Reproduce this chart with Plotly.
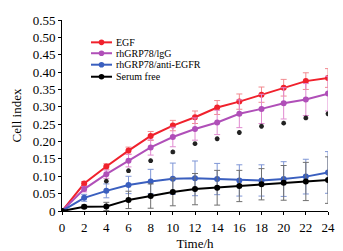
import plotly.graph_objects as go

time_h = [0, 2, 4, 6, 8, 10, 12, 14, 16, 18, 20, 22, 24]

egf = [0, 0.079, 0.128, 0.174, 0.216, 0.246, 0.270, 0.298, 0.315, 0.335, 0.355, 0.374, 0.383]
egf_err = [0, 0.006, 0.008, 0.01, 0.013, 0.015, 0.018, 0.02, 0.022, 0.022, 0.024, 0.024, 0.027]

igg = [0, 0.063, 0.106, 0.145, 0.183, 0.213, 0.236, 0.255, 0.280, 0.294, 0.310, 0.321, 0.338]
igg_err = [0, 0.008, 0.012, 0.018, 0.022, 0.028, 0.032, 0.035, 0.04, 0.042, 0.045, 0.046, 0.05]

anti = [0, 0.038, 0.058, 0.075, 0.085, 0.093, 0.094, 0.092, 0.088, 0.088, 0.092, 0.099, 0.111]
anti_err = [0, 0.01, 0.02, 0.025, 0.035, 0.045, 0.05, 0.045, 0.045, 0.045, 0.05, 0.05, 0.06]

serum = [0, 0.012, 0.013, 0.032, 0.043, 0.055, 0.063, 0.067, 0.072, 0.077, 0.081, 0.085, 0.089]
serum_err = [0, 0.005, 0.012, 0.025, 0.035, 0.04, 0.045, 0.05, 0.045, 0.045, 0.05, 0.055, 0.067]

star_time = [4, 6, 8, 10, 12, 14, 16, 18, 20, 22, 24]
star_y = [0.086, 0.116, 0.145, 0.170, 0.194, 0.208, 0.226, 0.244, 0.253, 0.268, 0.280]

y_ticks = [0, 0.05, 0.10, 0.15, 0.20, 0.25, 0.30, 0.35, 0.40, 0.45, 0.50, 0.55]
y_tick_text = ["0", "0.05", "0.10", "0.15", "0.20", "0.25", "0.30", "0.35", "0.40", "0.45", "0.50", "0.55"]
x_ticks = [0, 2, 4, 6, 8, 10, 12, 14, 16, 18, 20, 22, 24]

series = [
    ("EGF", egf, egf_err, "#f0212c", "#f28a90"),
    ("rhGRP78/lgG", igg, igg_err, "#b04fb8", "#e08ad0"),
    ("rhGRP78/anti-EGFR", anti, anti_err, "#3a5fbf", "#7f96d6"),
    ("Serum free", serum, serum_err, "#000000", "#707070"),
]

FONT = "Liberation Serif, Times New Roman, serif"

fig = go.Figure()
for name, vals, errs, col, ecol in series:
    fig.add_trace(go.Scatter(
        x=time_h, y=vals, name=name, mode="lines+markers", showlegend=False,
        line=dict(color=col, width=2),
        marker=dict(color=col, size=6, symbol="circle"),
        error_y=dict(type="data", array=errs, visible=True, color=ecol, thickness=1, width=3),
    ))

fig.add_trace(go.Scatter(
    x=star_time, y=star_y, mode="markers", showlegend=False,
    marker=dict(symbol="asterisk-open", size=4, color="#222222", line=dict(color="#222222", width=1.5)),
))

# Hand-drawn compact legend (paper coordinates)
plot_w, plot_h = 266.0, 191.0
leg_x0, leg_x1, leg_text_x = 0.109, 0.188, 0.194
leg_rows = [0.883, 0.826, 0.766, 0.703]
rx, ry = 2.8 / plot_w, 2.8 / plot_h
for (name, _, _, col, _), yy in zip(series, leg_rows):
    fig.add_shape(type="line", xref="paper", yref="paper", x0=leg_x0, x1=leg_x1, y0=yy, y1=yy,
                  line=dict(color=col, width=2))
    xm = (leg_x0 + leg_x1) / 2
    fig.add_shape(type="circle", xref="paper", yref="paper", x0=xm - rx, x1=xm + rx,
                  y0=yy - ry, y1=yy + ry, fillcolor=col, line=dict(color=col, width=0))
    fig.add_annotation(xref="paper", yref="paper", x=leg_text_x, y=yy, text=name,
                       showarrow=False, xanchor="left", yanchor="middle",
                       font=dict(size=10, family=FONT, color="black"))

# The page body adds an 8px offset; size the figure to compensate.
fig.update_layout(
    width=335, height=243, autosize=False,
    margin=dict(l=54, r=15, t=12, b=40, autoexpand=False),
    paper_bgcolor="white", plot_bgcolor="white",
    font=dict(family=FONT, color="black", size=13),
    showlegend=False,
    xaxis=dict(range=[0, 24], tickvals=x_ticks, showline=True, linecolor="black",
               linewidth=1, ticks="outside", ticklen=3, tickcolor="black",
               showgrid=False, zeroline=False, ticklabeloverflow="allow",
               ticklabelstandoff=1, automargin=False,
               title=dict(text="Time/h", font=dict(size=13), standoff=6),
               tickfont=dict(size=13)),
    yaxis=dict(range=[0, 0.55], tickvals=y_ticks, ticktext=y_tick_text, showline=True,
               linecolor="black", linewidth=1, ticks="outside", ticklen=3,
               tickcolor="black", showgrid=False, zeroline=False, automargin=False,
               title=dict(text="Cell index", font=dict(size=13), standoff=8),
               tickfont=dict(size=13)),
)

fig.write_html("out.html")
